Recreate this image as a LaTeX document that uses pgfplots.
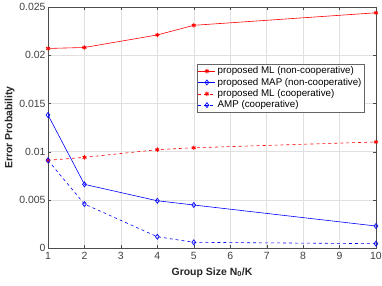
\documentclass[border=0pt]{standalone}
\usepackage{fontspec}
\setmainfont{Liberation Sans}
\usepackage{pgfplots}
\pgfplotsset{compat=1.18}
\begin{document}
\begin{tikzpicture}[x=1bp,y=1bp]
\useasboundingbox (0,0) rectangle (382,286);
\begin{axis}[
  at={(48bp,38bp)}, anchor=south west,
  scale only axis, width=328bp, height=241bp,
  xmin=1, xmax=10, ymin=0, ymax=0.025,
  xtick={1,2,...,10},
  ytick={0,0.005,0.01,0.015,0.02,0.025},
  scaled y ticks=false,
  yticklabel style={/pgf/number format/fixed,/pgf/number format/precision=3, xshift=1bp},
  xticklabel style={yshift=-1bp},
  /pgf/number format/assume math mode=true,
  tick label style={font=\fontsize{10.5}{12}\selectfont, text=black!75},
  grid=major,
  grid style={black!12, line width=0.4pt},
  axis line style={black!70},
  tick style={black!70},
  tick align=inside,
  major tick length=3bp,
  xlabel={\textbf{Group Size N$_{\mathbf{0}}$/K}},
  ylabel={\textbf{Error Probability}},
  label style={font=\fontsize{10.5}{12}\selectfont, text=black!85},
  xlabel style={yshift=-1bp},
  ylabel style={yshift=-2bp},
  legend style={at={(0.454,0.765)}, anchor=north west, font=\fontsize{9.8}{11}\selectfont,
    draw=black!60, inner sep=1pt, row sep=-1.2pt, cells={anchor=west}},
  legend cell align=left,
]
\addplot[red, line width=0.6pt, mark=asterisk, mark size=2.2pt, mark options={line width=0.9pt}]
  coordinates {(1,0.0207) (2,0.0208) (4,0.0221) (5,0.0231) (10,0.0244)};
\addlegendentry{proposed ML (non-cooperative)}
\addplot[blue, line width=0.6pt, mark=diamond, mark size=2.5pt, mark options={line width=0.7pt}]
  coordinates {(1,0.0138) (2,0.0066) (4,0.0049) (5,0.00446) (10,0.00228)};
\addlegendentry{proposed MAP (non-cooperative)}
\addplot[red, dashed, line width=0.6pt, mark=asterisk, mark size=2.2pt, mark options={solid, line width=0.9pt}]
  coordinates {(1,0.0091) (2,0.0094) (4,0.0102) (5,0.0104) (10,0.0110)};
\addlegendentry{proposed ML (cooperative)}
\addplot[blue, dashed, line width=0.6pt, mark=diamond, mark size=2.5pt, mark options={solid, line width=0.7pt}]
  coordinates {(1,0.0091) (2,0.00456) (4,0.00117) (5,0.00059) (10,0.00045)};
\addlegendentry{AMP (cooperative)}
\end{axis}
\end{tikzpicture}
\end{document}
